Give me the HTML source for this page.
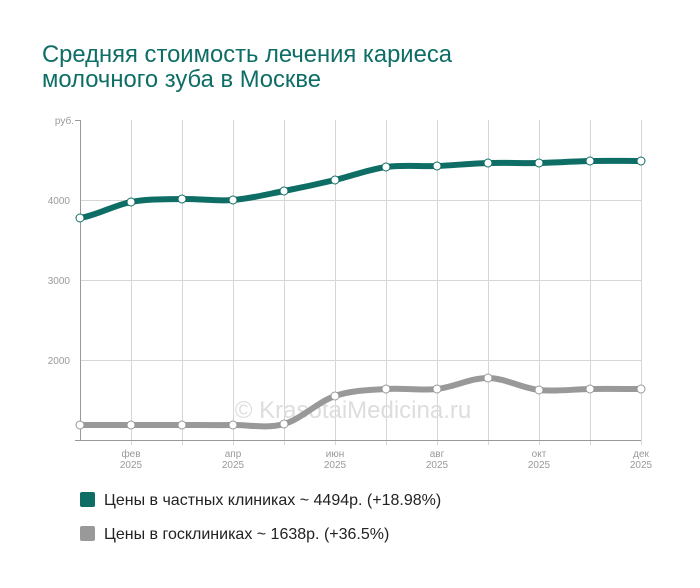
<!DOCTYPE html>
<html><head><meta charset="utf-8"><style>
body{margin:0;background:#fff;width:700px;height:583px;overflow:hidden;font-family:"Liberation Sans",sans-serif}
</style></head><body>
<svg id="s" width="700" height="583" xmlns="http://www.w3.org/2000/svg" font-family="Liberation Sans, sans-serif">
<text x="42" y="62" font-size="23.8" fill="#0e6e66">Средняя стоимость лечения кариеса</text>
<text x="42" y="87" font-size="23.8" fill="#0e6e66">молочного зуба в Москве</text>
<g stroke="#d6d6d6" stroke-width="1">
<line x1="80" y1="200.5" x2="641" y2="200.5"/><line x1="80" y1="280.5" x2="641" y2="280.5"/><line x1="80" y1="360.5" x2="641" y2="360.5"/>
<g id="vg"></g>
</g>
<line x1="80.5" y1="120" x2="80.5" y2="441" stroke="#999"/>
<line x1="75" y1="120.5" x2="80" y2="120.5" stroke="#999"/>
<line x1="75" y1="440.5" x2="641" y2="440.5" stroke="#999"/>
<g font-size="10" fill="#999" text-anchor="end">
<text x="74" y="124">руб.</text><text x="70" y="204">4000</text><text x="70" y="284">3000</text><text x="70" y="364">2000</text>
</g>
<g font-size="10" fill="#999" text-anchor="middle" id="xl"></g>
<text x="353" y="418" font-size="24" fill="#ddd" text-anchor="middle">© KrasotaiMedicina.ru</text>
<path id="p1" fill="none" stroke="#0e6e66" stroke-width="6"/>
<path id="p2" fill="none" stroke="#999" stroke-width="6"/>
<g id="d1"></g><g id="d2"></g>
<rect x="80" y="492" width="15" height="15" rx="2" fill="#0e6e66"/>
<text x="104" y="505" font-size="16" fill="#222">Цены в частных клиниках ~ 4494р. (+18.98%)</text>
<rect x="80" y="526" width="15" height="15" rx="2" fill="#999"/>
<text x="104" y="539" font-size="16" fill="#222">Цены в госклиниках ~ 1638р. (+36.5%)</text>
</svg>
<script>
var xs=[],ns="http://www.w3.org/2000/svg";for(var i=0;i<12;i++)xs.push(80+i*51);
var a=[218,202,199,200,191,180,167,166,163,163,161,161],b=[425,425,425,425,424,396,389,389,378,390,389,389];
function el(t,at,p){var e=document.createElementNS(ns,t);for(var k in at)e.setAttribute(k,at[k]);p.appendChild(e);return e}
var vg=document.getElementById('vg');for(i=1;i<12;i++)el('line',{x1:xs[i]+.5,y1:120,x2:xs[i]+.5,y2:445},vg);
var xl=document.getElementById('xl'),m={1:'фев',3:'апр',5:'июн',7:'авг',9:'окт',11:'дек'};
for(var k in m){var t=el('text',{x:xs[k],y:457},xl);t.textContent=m[k];t=el('text',{x:xs[k],y:468},xl);t.textContent='2025';}
function path(y){var d='M'+xs[0]+','+y[0];for(var i=0;i<11;i++){var y0=y[Math.max(i-1,0)],y3=y[Math.min(i+2,11)];
var c1=y[i]+(y[i+1]-y0)/6,c2=y[i+1]-(y3-y[i])/6;d+=' C'+(xs[i]+17)+','+c1+' '+(xs[i+1]-17)+','+c2+' '+xs[i+1]+','+y[i+1];}return d}
document.getElementById('p1').setAttribute('d',path(a));document.getElementById('p2').setAttribute('d',path(b));
[[a,'d1','#0e6e66'],[b,'d2','#999']].forEach(function(s){var g=document.getElementById(s[1]);for(var i=0;i<12;i++)el('circle',{cx:xs[i],cy:s[0][i],r:4,fill:'#fff',stroke:s[2],'stroke-width':1},g)});
</script>
</body></html>
